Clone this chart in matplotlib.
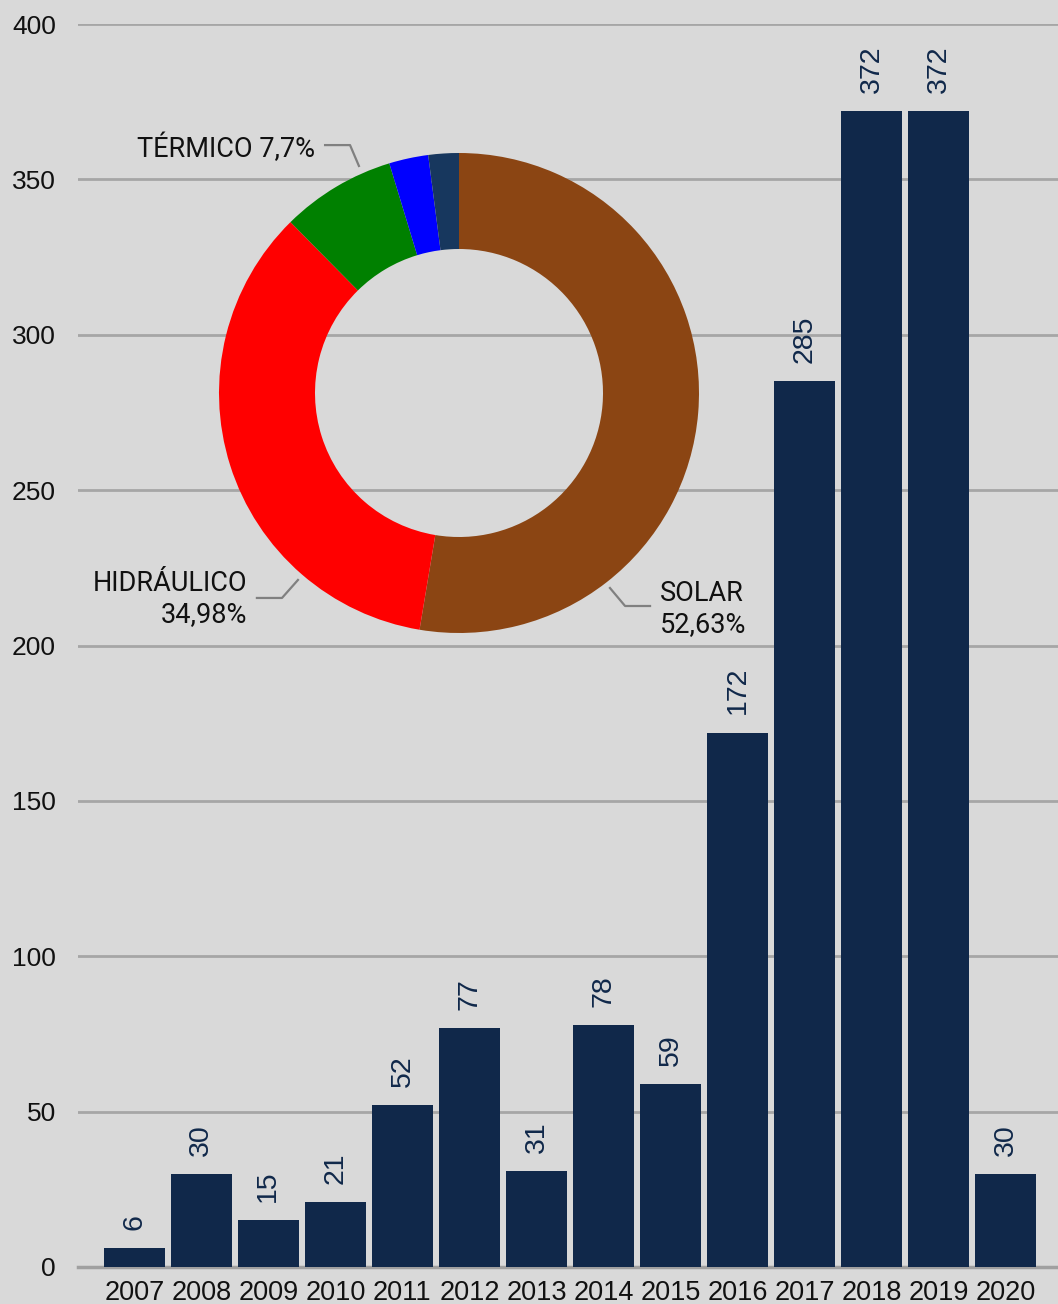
import numpy as np
import matplotlib
matplotlib.use('Agg')
import matplotlib.pyplot as plt

# datos de barras
years = ['2007', '2008', '2009', '2010', '2011', '2012', '2013', '2014',
         '2015', '2016', '2017', '2018', '2019', '2020']
valores = [6, 30, 15, 21, 52, 77, 31, 78, 59, 172, 285, 372, 372, 30]

# datos del donut
fuentes = ['SOLAR', 'HIDRÁULICO', 'TÉRMICO', 'OTRO1', 'OTRO2']
porcentajes = [52.63, 34.98, 7.7, 2.64, 2.05]
colores_pie = ['#8B4513', '#FF0000', '#008000', '#0000FF', '#17375E']

bg = '#d9d9d9'
navy = '#10284a'
W, H = 1058, 1304

plt.rcParams['font.family'] = ['Liberation Sans', 'DejaVu Sans']
fig = plt.figure(figsize=(W / 100, H / 100), dpi=100, facecolor=bg)

# eje principal
ax = fig.add_axes([78 / W, (H - 1267) / H, (W - 78) / W, (1267 - 24) / H])
ax.set_facecolor(bg)
x = np.arange(len(years))
bars = ax.bar(x, valores, width=0.91, color=navy, zorder=3)
ax.set_xlim(-0.84, 13.78)
ax.set_ylim(0, 400)
ax.set_yticks(range(0, 401, 50))
ax.set_xticks(x)
ax.set_xticklabels(years)
ax.grid(axis='y', color='#a6a6a6', linewidth=2, zorder=0)
for s in ['top', 'right', 'left']:
    ax.spines[s].set_visible(False)
ax.spines['bottom'].set_color('#a0a0a0')
ax.spines['bottom'].set_linewidth(2.5)
ax.tick_params(axis='y', length=0, pad=16, labelsize=19, labelcolor='#111111')
ax.tick_params(axis='x', length=0, pad=9, labelsize=19.5, labelcolor='#111111')

for xi, v in zip(x, valores):
    ax.annotate(str(v), (xi, v), xytext=(0, 13), textcoords='offset points',
                rotation=90, ha='center', va='bottom', fontsize=20.5, color=navy)

# donut
cx, cy, r = 459, 393, 240
pax = fig.add_axes([(cx - r) / W, (H - cy - r) / H, 2 * r / W, 2 * r / H])
pax.pie(porcentajes, colors=colores_pie, startangle=90, counterclock=False,
        wedgeprops=dict(width=0.4, linewidth=0))
pax.set_xlim(-1, 1)
pax.set_ylim(-1, 1)
pax.set_aspect('equal')
pax.axis('off')

lbl_font = dict(family=['Roboto', 'DejaVu Sans'], fontsize=19.5, color='#111111')
gris = '#808080'
# TÉRMICO
pax.plot([-0.558, -0.454, -0.417], [1.033, 1.033, 0.946], color=gris, lw=1.6, clip_on=False)
pax.text(-0.6, 1.021, 'TÉRMICO 7,7%', ha='right', va='center', **lbl_font)
# HIDRÁULICO
pax.plot([-0.842, -0.7375, -0.671], [-0.854, -0.854, -0.779], color=gris, lw=1.6, clip_on=False)
pax.text(-0.883, -0.858, 'HIDRÁULICO\n34,98%', ha='right', va='center',
         multialignment='right', linespacing=1.2, **lbl_font)
# SOLAR
pax.plot([0.629, 0.692, 0.796], [-0.8125, -0.8875, -0.8875], color=gris, lw=1.6, clip_on=False)
pax.text(0.8375, -0.9, 'SOLAR\n52,63%', ha='left', va='center',
         multialignment='left', linespacing=1.2, **lbl_font)

plt.savefig('out.png', dpi=100, facecolor=bg)
